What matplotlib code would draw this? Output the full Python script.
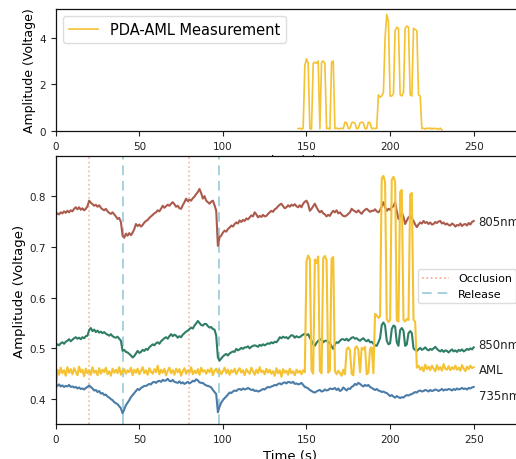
import numpy as np
import matplotlib
matplotlib.use("Agg")
import matplotlib.pyplot as plt
from matplotlib.lines import Line2D

plt.rcParams['font.family'] = ['DejaVu Sans']

# ---------------- data (values in millivolts for the lower panel) ----------------
time_s = np.arange(0, 251)

nm805_mv = [
    762, 766, 764, 768, 766, 770, 767, 771, 768, 772,
    770, 775, 778, 774, 778, 773, 776, 772, 775, 780,
    791, 787, 784, 781, 783, 779, 782, 777, 774, 772,
    775, 770, 767, 765, 768, 764, 760, 755, 757, 749,
    722, 718, 726, 722, 727, 723, 728, 735, 745, 741,
    744, 740, 743, 748, 751, 753, 757, 760, 763, 766,
    768, 772, 770, 775, 781, 777, 780, 783, 781, 785,
    788, 784, 779, 781, 776, 775, 782, 788, 795, 790,
    793, 791, 796, 799, 804, 808, 814, 806, 795, 800,
    791, 788, 785, 789, 791, 782, 771, 702, 719, 722,
    728, 732, 730, 735, 738, 742, 740, 745, 748, 746,
    752, 749, 753, 751, 756, 754, 758, 762, 760, 768,
    764, 758, 761, 759, 763, 760, 761, 765, 768, 771,
    769, 774, 776, 780, 783, 785, 780, 776, 778, 782,
    779, 783, 781, 784, 780, 778, 782, 778, 785, 789,
    791, 784, 771, 775, 780, 785, 778, 772, 768, 771,
    766, 764, 760, 763, 761, 767, 771, 768, 772, 766,
    768, 764, 761, 760, 762, 765, 768, 775, 772, 770,
    768, 772, 768, 765, 770, 773, 775, 772, 769, 771,
    771, 774, 770, 768, 772, 780, 788, 778, 771, 775,
    773, 778, 780, 788, 770, 755, 760, 768, 759, 745,
    752, 758, 761, 756, 751, 744, 739, 744, 748, 746,
    751, 747, 749, 745, 748, 744, 745, 749, 747, 750,
    751, 746, 748, 744, 746, 743, 742, 746, 744, 740,
    743, 742, 746, 741, 744, 745, 742, 747, 744, 749,
    751,
]

nm850_mv = [
    505, 508, 506, 510, 512, 509, 513, 515, 518, 514,
    517, 520, 522, 519, 521, 518, 522, 520, 524, 525,
    536, 540, 534, 537, 532, 535, 531, 533, 530, 532,
    529, 527, 525, 528, 524, 522, 521, 523, 519, 515,
    495, 497, 493, 492, 489, 486, 482, 485, 490, 495,
    491, 493, 497, 495, 499, 497, 502, 505, 508, 506,
    510, 512, 509, 514, 517, 520, 522, 519, 524, 528,
    524, 527, 525, 521, 524, 522, 527, 530, 533, 535,
    538, 541, 539, 545, 549, 554, 550, 546, 545, 548,
    548, 544, 541, 542, 538, 537, 525, 482, 476, 480,
    484, 487, 489, 486, 490, 492, 494, 493, 499, 496,
    498, 501, 499, 502, 502, 504, 500, 503, 505, 506,
    505, 503, 507, 505, 508, 506, 508, 510, 509, 512,
    510, 513, 512, 516, 522, 520, 523, 521, 522, 519,
    523, 526, 525, 521, 524, 522, 522, 525, 527, 529,
    526, 528, 521, 515, 508, 505, 511, 515, 517, 518,
    512, 515, 515, 512, 510, 504, 499, 508, 512, 511,
    515, 518, 518, 516, 519, 515, 518, 521, 522, 519,
    520, 517, 515, 518, 520, 516, 514, 517, 512, 513,
    509, 506, 505, 512, 520, 546, 551, 545, 515, 508,
    510, 538, 545, 543, 512, 505, 536, 540, 535, 505,
    508, 530, 534, 530, 500, 497, 495, 498, 501, 497,
    499, 502, 498, 496, 499, 497, 500, 503, 499, 496,
    494, 497, 493, 496, 495, 492, 495, 498, 494, 496,
    493, 497, 495, 498, 494, 496, 499, 497, 500, 498,
    502,
]

aml_mv = [
    410, 458, 448, 462, 451, 457, 446, 463, 452, 459,
    449, 461, 454, 447, 464, 453, 458, 445, 460, 451,
    457, 448, 463, 452, 456, 447, 461, 450, 458, 453,
    462, 449, 455, 446, 460, 452, 458, 451, 463, 448,
    456, 459, 450, 457, 453, 462, 447, 458, 452, 460,
    449, 456, 463, 451, 457, 448, 461, 454, 450, 459,
    453, 466, 449, 458, 452, 460, 447, 456, 462, 451,
    457, 448, 460, 453, 459, 446, 455, 461, 450, 457,
    452, 463, 449, 456, 451, 459, 448, 462, 454, 457,
    450, 458, 453, 461, 447, 456, 460, 452, 457, 449,
    455, 462, 451, 458, 448, 457, 453, 460, 449, 456,
    461, 452, 457, 447, 459, 454, 450, 462, 455, 448,
    458, 451, 463, 453, 456, 449, 460, 452, 458, 450,
    455, 446, 461, 451, 457, 444, 459, 452, 456, 448,
    460, 451, 455, 447, 458, 452, 456, 449, 457, 453,
    672, 683, 676, 456, 450, 675, 668, 681, 455, 451,
    678, 682, 674, 452, 457, 677, 680, 455, 449, 456,
    451, 446, 458, 449, 498, 502, 496, 450, 447, 500,
    504, 497, 453, 501, 498, 503, 449, 452, 499, 502,
    451, 568, 565, 560, 563, 835, 840, 828, 558, 552,
    556, 832, 838, 829, 555, 553, 808, 812, 556, 553,
    558, 556, 803, 806, 557, 552, 462, 466, 458, 463,
    455, 468, 459, 464, 457, 466, 460, 455, 467, 458,
    463, 456, 469, 460, 458, 465, 457, 463, 459, 466,
    458, 462, 456, 467, 460, 455, 464, 459, 466, 461,
    463,
]

nm735_mv = [
    428, 426, 429, 425, 427, 424, 426, 425, 428, 424,
    425, 423, 424, 421, 423, 420, 421, 419, 422, 424,
    427, 424, 421, 417, 418, 414, 416, 411, 412, 408,
    409, 405, 403, 400, 398, 394, 392, 390, 386, 382,
    372, 380, 388, 393, 398, 404, 408, 412, 416, 420,
    418, 422, 424, 426, 426, 428, 430, 429, 433, 434,
    432, 435, 436, 434, 438, 436, 437, 440, 436, 435,
    438, 434, 433, 432, 435, 431, 433, 430, 432, 434,
    431, 433, 436, 435, 439, 437, 433, 432, 432, 429,
    427, 426, 425, 423, 418, 414, 410, 374, 385, 393,
    398, 402, 405, 409, 413, 412, 415, 417, 416, 419,
    420, 418, 421, 419, 420, 422, 420, 418, 419, 416,
    417, 415, 416, 418, 420, 419, 422, 424, 423, 425,
    426, 428, 427, 430, 431, 429, 432, 433, 431, 434,
    433, 432, 434, 430, 431, 429, 430, 432, 428, 424,
    423, 421, 418, 416, 414, 413, 415, 417, 418, 415,
    416, 419, 417, 418, 421, 420, 420, 422, 418, 421,
    416, 418, 423, 420, 417, 421, 420, 424, 426, 430,
    428, 432, 430, 427, 425, 428, 426, 428, 424, 422,
    420, 418, 420, 417, 416, 414, 415, 413, 412, 409,
    406, 408, 405, 403, 406, 404, 402, 404, 403, 406,
    408, 407, 409, 410, 412, 414, 413, 416, 417, 415,
    416, 418, 417, 415, 418, 416, 417, 419, 418, 416,
    418, 420, 417, 419, 418, 420, 419, 417, 420, 418,
    421, 419, 420, 422, 420, 421, 419, 422, 421, 423,
    424,
]

# PDA-AML measurement (top panel), volts, 1 s steps from 145 s
pda_time_s = np.arange(145, 232)
pda_v = [
    0.10, 0.12, 0.08, 0.12, 2.80, 3.10, 2.90, 0.10, 0.08, 2.90,
    2.95, 2.90, 3.00, 0.10, 2.95, 3.00, 2.90, 0.10, 0.12, 0.08,
    2.95, 3.00, 0.10, 0.12, 0.10, 0.10, 0.12, 0.10, 0.38, 0.35,
    0.10, 0.12, 0.35, 0.38, 0.33, 0.10, 0.12, 0.35, 0.38, 0.35,
    0.10, 0.10, 0.38, 0.35, 0.10, 0.12, 0.10, 0.12, 1.55, 1.45,
    1.50, 1.65, 4.00, 5.00, 4.70, 1.50, 1.50, 1.60, 4.30, 4.45,
    4.40, 1.55, 1.50, 1.65, 4.40, 4.50, 4.45, 1.55, 1.50, 4.40,
    4.35, 4.30, 1.55, 1.50, 0.10, 0.12, 0.08, 0.12, 0.10, 0.13,
    0.08, 0.12, 0.10, 0.11, 0.07, 0.12, 0.05,
]

occlusion_times = [20, 80]
release_times = [40, 97.5]
series_labels = ["805nm", "850nm", "AML", "735nm"]

# ---------------- styling ----------------
c_805 = "#ab5b4c"
c_850 = "#2f7d66"
c_aml = "#f4c232"
c_735 = "#4b7ca8"
c_occ = "#f4a582"
c_rel = "#a6d2de"

W, H = 516, 460
fig = plt.figure(figsize=(W / 100, H / 100), dpi=100)

left_px, px_per_s = 55.7, 1.672
xmax = 280
width_px = xmax * px_per_s

ax1 = fig.add_axes([left_px / W, (H - 132) / H, width_px / W, 122 / H])
ax2 = fig.add_axes([left_px / W, (H - 425) / H, width_px / W, 268 / H])
ax2.set_zorder(3)

for ax in (ax1, ax2):
    ax.tick_params(labelsize=7.5, length=3.5, width=0.8, colors="#222222")
    for s in ax.spines.values():
        s.set_linewidth(0.9)
        s.set_color("#111111")

# top panel
ax1.plot(pda_time_s, pda_v, color=c_aml, lw=1.2, label="PDA-AML Measurement")
ax1.set_xlim(0, xmax)
ax1.set_ylim(0, 5.23)
ax1.set_yticks([0, 2, 4])
ax1.set_xticks([0, 50, 100, 150, 200, 250])
ax1.set_xlabel("Time (s)", fontsize=9.5, labelpad=2)
ax1.set_ylabel("Amplitude (Voltage)", fontsize=9)
ax1.yaxis.set_label_coords(-0.043, 0.5)
leg1 = ax1.legend(loc="upper left", fontsize=10.5, handlelength=2.0,
                  borderaxespad=0.5, fancybox=True, framealpha=1)
leg1.get_frame().set_edgecolor("#dddddd")

# lower panel
ax2.set_facecolor("white")
for t in occlusion_times:
    ax2.axvline(t, color=c_occ, ls=":", lw=1.2, alpha=0.8, zorder=1)
for t in release_times:
    ax2.axvline(t, color=c_rel, ls=(0, (5, 3)), lw=1.4, zorder=1)

series = [nm805_mv, nm850_mv, aml_mv, nm735_mv]
colors = [c_805, c_850, c_aml, c_735]
for vals, col in zip(series, colors):
    ax2.plot(time_s, np.array(vals) / 1000.0, color=col, lw=1.5, zorder=2)

label_y = [0.749, 0.508, 0.459, 0.408]
for lab, yv in zip(series_labels, label_y):
    ax2.text(253, yv, lab, fontsize=8.5, va="center", ha="left", color="#222222")

handles = [Line2D([], [], color=c_occ, ls=":", lw=1.2),
           Line2D([], [], color=c_rel, ls=(0, (5, 3)), lw=1.4)]
leg2 = ax2.legend(handles, ["Occlusion", "Release"], loc="upper left",
                  bbox_to_anchor=(418 / W, 1 - 270 / H),
                  bbox_transform=fig.transFigure, borderaxespad=0,
                  fontsize=8, handlelength=2.4, fancybox=True, framealpha=1)
leg2.get_frame().set_edgecolor("#dddddd")

ax2.set_xlim(0, xmax)
ax2.set_ylim(0.351, 0.879)
ax2.set_yticks([0.4, 0.5, 0.6, 0.7, 0.8])
ax2.set_xticks([0, 50, 100, 150, 200, 250])
ax2.set_xlabel("Time (s)", fontsize=9.5)
ax2.set_ylabel("Amplitude (Voltage)", fontsize=9.5)
ax2.yaxis.set_label_coords(-0.063, 0.5)

fig.savefig("out.png", dpi=100)
